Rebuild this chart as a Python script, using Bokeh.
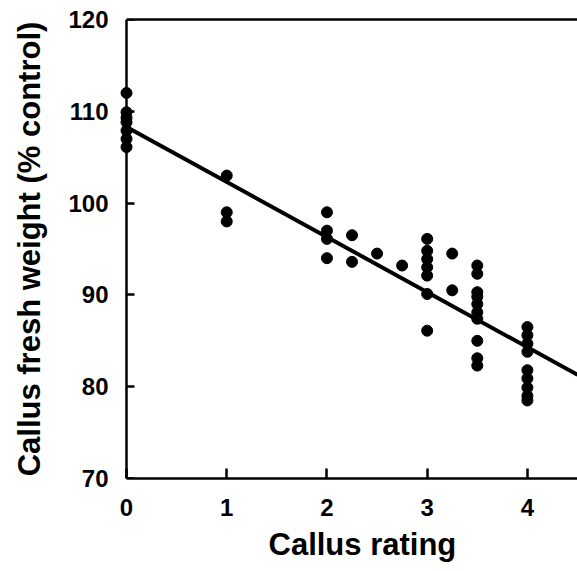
from bokeh.plotting import figure
from bokeh.models import Range1d, FixedTicker, LinearAxis, Title, CustomJSTickFormatter
from bokeh.embed import file_html
from bokeh.resources import INLINE

# Data
rating_0 = [0] * 7
weight_0 = [112.0, 109.9, 109.3, 108.8, 107.9, 107.0, 106.1]
rating_1 = [1] * 3
weight_1 = [103.0, 99.0, 98.0]
rating_2 = [2, 2, 2, 2, 2.25, 2.25, 2.5, 2.75]
weight_2 = [99.0, 97.0, 96.1, 94.0, 96.5, 93.6, 94.5, 93.2]
rating_3 = [3, 3, 3, 3, 3, 3, 3, 3.25, 3.25]
weight_3 = [96.1, 94.8, 93.9, 93.0, 92.1, 90.1, 86.1, 94.5, 90.5]
rating_35 = [3.5] * 10
weight_35 = [93.2, 92.3, 90.3, 89.8, 89.0, 88.1, 87.4, 85.0, 83.1, 82.3]
rating_4 = [4] * 9
weight_4 = [86.5, 85.6, 84.7, 83.8, 81.8, 80.9, 79.9, 79.0, 78.5]

fit_intercept = 108.3
fit_slope = -6.0

x_ticks = [0, 1, 2, 3, 4]
y_ticks = [70, 80, 90, 100, 110, 120]

rating = rating_0 + rating_1 + rating_2 + rating_3 + rating_35 + rating_4
weight = weight_0 + weight_1 + weight_2 + weight_3 + weight_35 + weight_4

X0, X1 = -0.08, 4.5
FONT = "Liberation Sans"

p = figure(width=577, height=571, output_backend="svg", toolbar_location=None,
           x_range=Range1d(X0, X1), y_range=Range1d(70, 120),
           y_axis_location=None,
           min_border_left=118, min_border_right=0, min_border_top=19,
           min_border_bottom=93)
p.outline_line_color = None
p.grid.visible = False
p.background_fill_color = "white"
p.border_fill_color = "white"

fit_x = [0, X1]
fit_y = [fit_intercept + fit_slope * v for v in fit_x]
p.line(fit_x, fit_y, line_color="black", line_width=4)
p.scatter(rating, weight, size=11, fill_color="black", line_color="black")


def style(ax):
    ax.axis_line_width = 2.5
    ax.axis_line_color = "black"
    ax.major_tick_line_width = 2.5
    ax.major_tick_line_color = "black"
    ax.major_tick_out = 0
    ax.minor_tick_line_color = None
    ax.major_label_text_font = FONT
    ax.major_label_text_font_style = "bold"
    ax.major_label_text_font_size = "24px"
    ax.major_label_text_color = "black"
    ax.axis_label_text_font = FONT
    ax.axis_label_text_font_style = "bold"
    ax.axis_label_text_font_size = "31px"
    ax.axis_label_text_color = "black"


xa = p.xaxis[0]
style(xa)
xa.ticker = FixedTicker(ticks=x_ticks)
xa.major_tick_in = 10
xa.major_label_standoff = 20
xa.bounds = (0, X1)

xtitle = Title(text="Callus  rating", align="left", offset=150, standoff=13,
               text_font=FONT, text_font_style="bold", text_font_size="31px",
               text_color="black")
p.add_layout(xtitle, "below")

# y axis line and ticks, placed at rating 0 (no labels of its own)
yline = LinearAxis(ticker=FixedTicker(ticks=y_ticks), fixed_location=0,
                   formatter=CustomJSTickFormatter(code="return ''"))
style(yline)
yline.major_tick_in = 8
yline.major_label_text_color = None
yline.major_label_standoff = 0
p.add_layout(yline, "left")

# y tick labels and title
ylab = LinearAxis(ticker=FixedTicker(ticks=y_ticks),
                  axis_label="Callus fresh weight (% control)")
style(ylab)
ylab.axis_line_color = None
ylab.major_tick_line_color = None
ylab.major_tick_in = 0
ylab.major_label_standoff = 10
ylab.axis_label_standoff = 18
p.add_layout(ylab, "left")

top = LinearAxis(ticker=FixedTicker(ticks=[]), axis_line_width=2.5,
                 axis_line_color="black",
                 major_tick_line_color=None, minor_tick_line_color=None,
                 bounds=(0, X1))
p.add_layout(top, "above")

open("out.html", "w").write(file_html(p, INLINE))
